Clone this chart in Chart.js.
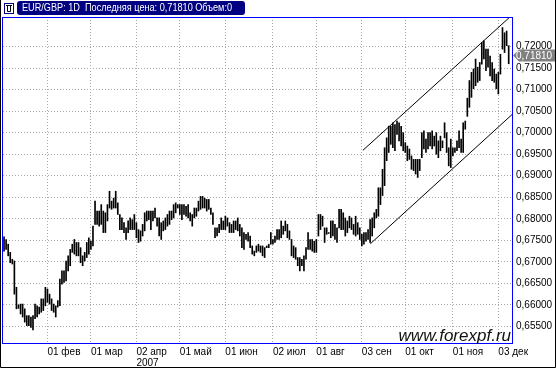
<!DOCTYPE html>
<html><head><meta charset="utf-8">
<script src="https://cdn.jsdelivr.net/npm/chart.js@4.4.1/dist/chart.umd.min.js"></script>
<style>html,body{margin:0;padding:0;background:#fff;overflow:hidden}canvas{display:block}</style>
</head><body>
<div style="width:557px;height:369px;position:relative"><canvas id="c" width="557" height="369"></canvas></div>
<script>
// Daily high / low of EUR/GBP, 2007 (bar index 0 = first trading day of January)
const highs = [
0.6758,0.6752,0.6741,0.6722,0.6706,0.6702,0.6641,0.6600,0.6602,0.6602,0.6591,0.6575,0.6575,0.6572,0.6575,0.6602,0.6598,0.6595,0.6614,0.6614,
0.6641,0.6637,0.6625,0.6614,0.6602,0.6598,0.6610,0.6660,0.6679,0.6679,0.6702,0.6714,0.6729,0.6741,0.6752,0.6745,0.6745,0.6733,0.6714,0.6722,
0.6745,0.6756,0.6748,0.6783,0.6841,
0.6818,0.6818,0.6833,0.6818,0.6814,0.6833,0.6864,0.6841,0.6848,0.6864,0.6837,0.6810,0.6802,0.6791,0.6779,0.6795,0.6802,0.6798,0.6810,0.6791,
0.6775,0.6772,0.6787,0.6814,0.6818,0.6818,0.6818,0.6818,0.6825,0.6802,0.6802,0.6791,0.6795,0.6802,0.6810,0.6818,0.6818,0.6833,0.6837,0.6833,
0.6833,0.6833,0.6833,0.6829,0.6833,0.6814,0.6810,0.6825,0.6825,0.6841,0.6852,0.6852,0.6848,0.6845,0.6845,0.6825,0.6814,0.6779,0.6779,0.6787,
0.6802,0.6795,0.6806,0.6802,0.6791,0.6787,0.6795,0.6795,0.6802,0.6787,0.6779,0.6768,0.6764,0.6768,0.6760,0.6737,0.6725,0.6737,0.6741,
0.6737,0.6737,0.6733,0.6737,0.6741,0.6768,0.6752,0.6760,0.6775,0.6775,0.6795,0.6783,0.6795,0.6787,0.6772,0.6752,0.6737,0.6733,0.6710,0.6710,
0.6706,0.6714,0.6733,0.6768,0.6752,0.6752,0.6748,0.6752,0.6810,0.6810,0.6806,0.6779,0.6779,0.6768,0.6795,0.6795,0.6787,0.6779,0.6822,0.6822,
0.6814,0.6802,0.6795,0.6806,0.6802,0.6787,0.6806,0.6791,0.6779,0.6764,0.6768,0.6768,0.6775,0.6798,0.6802,0.6814,0.6822,0.6872,0.6872,
0.6915,0.6965,0.6988,0.7015,0.7015,0.7023,0.7019,0.7027,0.7023,0.7015,0.7000,0.6977,0.6969,0.6962,0.6946,0.6938,0.6938,0.6938,0.6938,0.7000,
0.7004,0.6985,0.7000,0.7000,0.7004,0.6992,0.7000,0.6981,0.6992,0.6981,0.7023,0.7000,0.6965,0.6985,0.6965,0.6965,0.6981,0.7004,0.6985,0.7023,
0.7027,0.7080,
0.7121,0.7140,0.7148,0.7171,0.7152,0.7163,0.7209,0.7213,0.7194,0.7194,0.7178,0.7163,0.7148,0.7136,0.7140,0.7182,0.7244,0.7232,0.7236,0.7202
];
const lows = [
0.6725,0.6729,0.6714,0.6698,0.6695,0.6625,0.6591,0.6592,0.6579,0.6572,0.6560,0.6552,0.6552,0.6548,0.6542,0.6568,0.6572,0.6579,0.6583,0.6587,
0.6598,0.6606,0.6602,0.6587,0.6583,0.6572,0.6595,0.6598,0.6648,0.6652,0.6656,0.6679,0.6691,0.6722,0.6718,0.6714,0.6714,0.6698,0.6691,0.6702,
0.6710,0.6718,0.6729,0.6737,0.6787,
0.6787,0.6783,0.6787,0.6768,0.6768,0.6795,0.6825,0.6822,0.6825,0.6825,0.6810,0.6775,0.6775,0.6768,0.6752,0.6768,0.6775,0.6775,0.6775,0.6756,
0.6745,0.6748,0.6760,0.6772,0.6795,0.6798,0.6775,0.6795,0.6802,0.6783,0.6760,0.6752,0.6772,0.6775,0.6783,0.6787,0.6798,0.6802,0.6814,0.6825,
0.6810,0.6798,0.6810,0.6806,0.6802,0.6795,0.6783,0.6802,0.6806,0.6818,0.6822,0.6825,0.6825,0.6818,0.6822,0.6810,0.6787,0.6756,0.6760,0.6768,
0.6775,0.6775,0.6775,0.6783,0.6768,0.6768,0.6768,0.6775,0.6772,0.6760,0.6733,0.6729,0.6752,0.6748,0.6733,0.6718,0.6714,0.6722,0.6725,
0.6722,0.6714,0.6710,0.6733,0.6733,0.6741,0.6741,0.6745,0.6752,0.6752,0.6756,0.6764,0.6772,0.6756,0.6752,0.6714,0.6710,0.6706,0.6691,0.6679,
0.6691,0.6679,0.6706,0.6729,0.6729,0.6725,0.6722,0.6722,0.6760,0.6775,0.6783,0.6745,0.6764,0.6766,0.6756,0.6760,0.6752,0.6745,0.6779,0.6775,
0.6775,0.6760,0.6768,0.6779,0.6775,0.6764,0.6760,0.6764,0.6752,0.6737,0.6741,0.6748,0.6752,0.6745,0.6760,0.6779,0.6802,0.6806,0.6833,
0.6854,0.6877,0.6935,0.6954,0.6973,0.6965,0.6958,0.6996,0.6981,0.6969,0.6958,0.6954,0.6935,0.6938,0.6915,0.6912,0.6904,0.6896,0.6912,0.6942,
0.6962,0.6954,0.6962,0.6969,0.6962,0.6969,0.6950,0.6942,0.6958,0.6965,0.6988,0.6954,0.6923,0.6919,0.6946,0.6954,0.6958,0.6965,0.6954,0.6954,
0.7008,0.7038,
0.7059,0.7082,0.7102,0.7109,0.7117,0.7121,0.7159,0.7171,0.7144,0.7152,0.7132,0.7121,0.7117,0.7102,0.7090,0.7136,0.7194,0.7186,0.7202,0.7160
];
const yTicks = [0.655,0.66,0.665,0.67,0.675,0.68,0.685,0.69,0.695,0.70,0.705,0.71,0.715,0.72];
const monthTickIdx = [21,42,64,85,107,130,151,173,194,217,239];
const monthLabels = ['01 фев','01 мар',['02 апр','2007'],'01 май','01 июн','02 июл','01 авг','03 сен','01 окт','01 ноя','03 дек'];
const channelUpper = [{x:173.5,y:0.6959},{x:245.6,y:0.7273}];
const channelLower = [{x:177.1,y:0.6742},{x:245.6,y:0.7042}];
const lastPrice = 0.7181;
const lastPriceLabel = '0,71810';
const titleText = 'EUR/GBP: 1D  Последняя цена: 0,71810 Объем:0';
const watermark = 'www.forexpf.ru';

const FONT = "'Liberation Sans', Arial, sans-serif";
const NARROW = "'Liberation Sans Narrow', 'Arial Narrow', 'Liberation Sans', sans-serif";

const decor = {
  id: 'decor',
  afterDraw(chart) {
    const ctx = chart.ctx, a = chart.chartArea;
    ctx.save();
    // blue plot frame
    ctx.strokeStyle = '#0000ff'; ctx.lineWidth = 1;
    ctx.strokeRect(a.left - 0.5, a.top + 0.5, a.right - a.left + 1, a.bottom - a.top);
    // watermark
    ctx.fillStyle = '#111';
    ctx.font = "italic 17px " + FONT;
    ctx.textAlign = 'right'; ctx.textBaseline = 'alphabetic';
    ctx.fillText(watermark, a.right - 1, a.bottom - 2);
    // last price marker
    const y = Math.round(chart.scales.y.getPixelForValue(lastPrice)) + 0.5;
    ctx.fillStyle = '#808080';
    ctx.beginPath();
    ctx.moveTo(a.right + 1, y);
    ctx.lineTo(a.right + 7, y - 6);
    ctx.lineTo(556, y - 6);
    ctx.lineTo(556, y + 6);
    ctx.lineTo(a.right + 7, y + 6);
    ctx.closePath(); ctx.fill();
    ctx.fillStyle = '#ffffff';
    ctx.font = "10px " + NARROW;
    ctx.textAlign = 'left'; ctx.textBaseline = 'middle';
    ctx.fillText(lastPriceLabel, a.right + 4, y + 0.5);
    // title box
    ctx.fillStyle = '#000080';
    ctx.beginPath();
    if (ctx.roundRect) ctx.roundRect(17, 1, 228, 14, 3); else ctx.rect(17, 1, 228, 14);
    ctx.fill();
    ctx.fillStyle = '#ffffff';
    ctx.font = "10px " + FONT;
    ctx.textAlign = 'left'; ctx.textBaseline = 'middle';
    const w = ctx.measureText(titleText).width;
    const sx = Math.min(1, 210 / w);
    ctx.save(); ctx.translate(22, 8.5); ctx.scale(sx, 1);
    ctx.fillText(titleText, 0, 0); ctx.restore();
    // small icon
    ctx.strokeStyle = '#000080'; ctx.lineWidth = 1;
    ctx.strokeRect(4.5, 3.5, 9, 10);
    ctx.strokeStyle = '#000';
    ctx.beginPath();
    ctx.moveTo(6, 5.5); ctx.lineTo(12, 5.5);
    ctx.moveTo(7.5, 5); ctx.lineTo(7.5, 11.5); ctx.lineTo(10.5, 11.5); ctx.lineTo(10.5, 5);
    ctx.stroke();
    // outer border
    ctx.strokeStyle = '#000';
    ctx.beginPath();
    ctx.moveTo(0.5, 0); ctx.lineTo(0.5, 367.5); ctx.lineTo(555.5, 367.5); ctx.lineTo(555.5, 0);
    ctx.stroke();
    ctx.restore();
  }
};

new Chart(document.getElementById('c').getContext('2d'), {
  type: 'bar',
  data: {
    datasets: [
      { type: 'line', data: channelUpper, borderColor: '#000', borderWidth: 1, pointRadius: 0, order: 1 },
      { type: 'line', data: channelLower, borderColor: '#000', borderWidth: 1, pointRadius: 0, order: 1 },
      { type: 'bar', data: highs.map((h, i) => ({ x: i, y: [lows[i], h] })),
        backgroundColor: '#000', borderWidth: 0, barThickness: 1, order: 2 }
    ]
  },
  options: {
    responsive: false, animation: false, devicePixelRatio: 1,
    layout: { padding: { left: 3, top: 17, right: 0, bottom: 0 } },
    plugins: { legend: { display: false }, tooltip: { enabled: false } },
    scales: {
      x: {
        type: 'linear', min: -0.5, max: 245.6, offset: false,
        grid: { offset: false, color: '#a8a8a8', drawTicks: false, tickLength: 0, lineWidth: 1 },
        border: { display: false, dash: [1, 2] },
        ticks: {
          autoSkip: false, maxRotation: 0, minRotation: 0, align: 'start', padding: 4, color: '#000',
          font: { family: FONT, size: 10, lineHeight: 1.1 },
          callback: (v) => { const k = monthTickIdx.indexOf(v); return k >= 0 ? monthLabels[k] : ''; }
        },
        afterBuildTicks: (s) => { s.ticks = monthTickIdx.map(v => ({ value: v })); },
        afterFit: (s) => { s.height = 26; }
      },
      y: {
        type: 'linear', position: 'right', min: 0.65116, max: 0.72686, beginAtZero: false,
        grid: { color: '#a8a8a8', drawTicks: false, tickLength: 0, lineWidth: 1 },
        border: { display: false, dash: [1, 2] },
        ticks: {
          padding: 4, color: '#000', font: { family: NARROW, size: 10 },
          callback: (v) => v.toFixed(5).replace('.', ',')
        },
        afterBuildTicks: (s) => { s.ticks = yTicks.map(v => ({ value: v })); },
        afterFit: (s) => { s.width = 45; }
      }
    }
  },
  plugins: [decor]
});
</script>
</body></html>
